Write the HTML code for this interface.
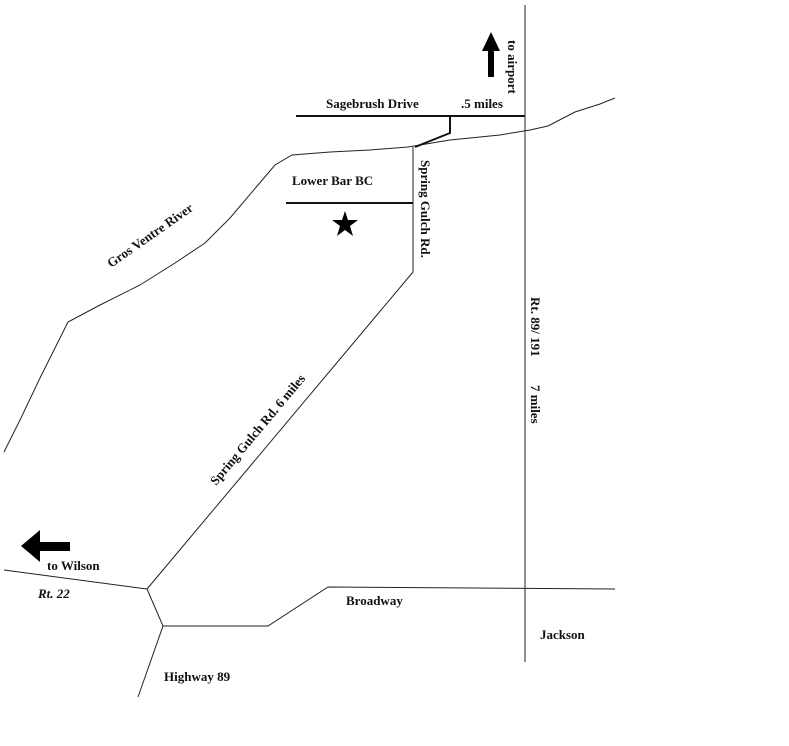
<!DOCTYPE html>
<html><head><style>
html,body{margin:0;padding:0;background:#fff;width:789px;height:746px;overflow:hidden}
text{font-family:"Liberation Serif",serif;font-weight:bold;font-size:13px;fill:#111}
</style></head><body>
<svg width="789" height="746" xmlns="http://www.w3.org/2000/svg">
<g fill="none" stroke="#222" stroke-width="1">
<polyline points="4,452 20,420 40,378 60,338 68,322 100,305 140,285 175,263 205,243 230,218 258,185 275,165 292,155 330,152 370,150 408,147 450,140 500,135 530,130 548,126 575,112 600,104 615,98"/>
<line x1="413" y1="147" x2="413" y2="272"/>
<line x1="413" y1="272" x2="147" y2="589"/>
<line x1="4" y1="570" x2="147" y2="589"/>
<polyline points="147,589 163,626 268,626 328,587 615,589"/>
<line x1="163" y1="626" x2="138" y2="697"/>
<line x1="525" y1="5" x2="525" y2="662"/>
</g>
<g fill="none" stroke="#111" stroke-width="2">
<line x1="296" y1="116" x2="525" y2="116"/>
<polyline points="450,116 450,133 415,147"/>
<line x1="286" y1="203" x2="413" y2="203"/>
</g>
<polygon points="491,32 500,51 494,51 494,77 488,77 488,51 482,51" fill="#000"/>
<polygon points="21,546 40,530 40,542 70,542 70,551 40,551 40,562" fill="#000"/>
<polygon points="345,211 348,220 358,220 350,226 353,236 345,230 337,236 340,226 332,220 342,220" fill="#000"/>
<text x="326" y="108">Sagebrush Drive</text>
<text x="461" y="108" font-size="14">.5 miles</text>
<text x="292" y="185">Lower Bar BC</text>
<text transform="translate(508,40) rotate(90)" font-weight="normal" font-size="14">to airport</text>
<text transform="translate(421,160) rotate(90)" font-weight="normal">Spring Gulch Rd.</text>
<text transform="translate(531,297) rotate(90)" font-weight="normal">Rt. 89/ 191</text>
<text transform="translate(531,385) rotate(90)" font-weight="normal">7 miles</text>
<text transform="translate(216,486) rotate(-50)" font-weight="normal" font-size="14">Spring Gulch Rd.  6 miles</text>
<text transform="translate(111,268) rotate(-35)" font-weight="normal" font-size="12">Gros Ventre River</text>
<text x="47" y="570">to Wilson</text>
<text x="38" y="598" font-style="italic" font-weight="normal" font-size="14">Rt. 22</text>
<text x="346" y="605">Broadway</text>
<text x="540" y="639" font-size="14">Jackson</text>
<text x="164" y="681">Highway 89</text>
</svg>
</body></html>
